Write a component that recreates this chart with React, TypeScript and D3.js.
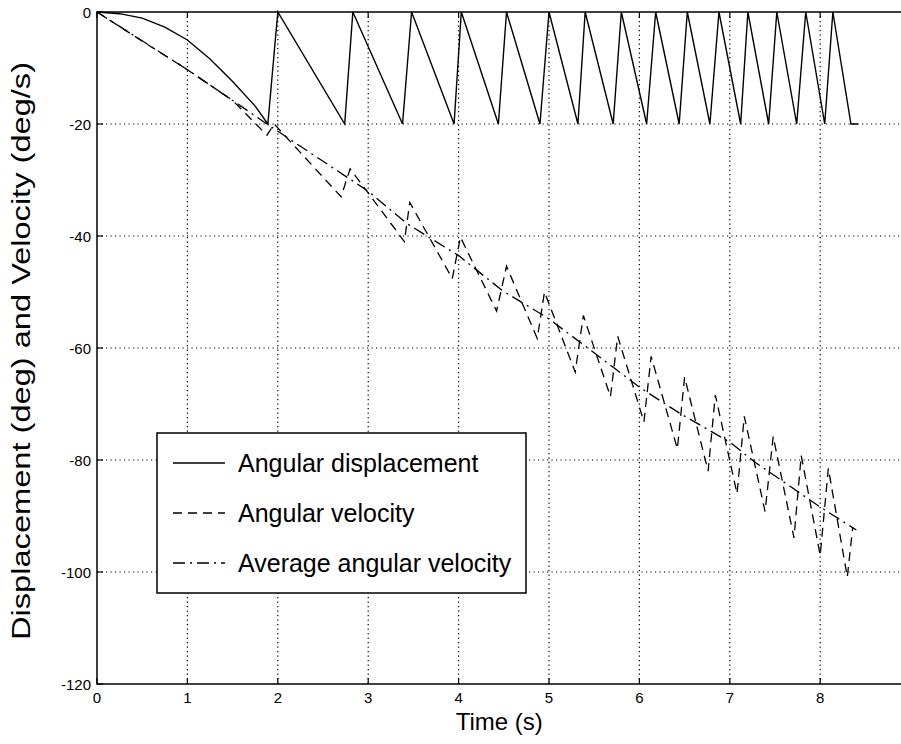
import React from "react";
import * as d3 from "d3";

// ---- data ----
const dispT = [0, 0.25, 0.5, 0.75, 1.0, 1.25, 1.5, 1.75, 1.89, 2.0, 2.74, 2.83, 3.38, 3.48, 3.95, 4.03, 4.44, 4.53, 4.9, 5.0, 5.32, 5.4, 5.71, 5.8, 6.08, 6.18, 6.44, 6.53, 6.78, 6.88, 7.12, 7.2, 7.43, 7.52, 7.74, 7.84, 8.05, 8.14, 8.34, 8.42];
const dispV = [0, -0.3, -1.1, -2.7, -5.0, -8.4, -12.4, -16.8, -20, 0, -20, 0, -20, 0, -20, 0, -20, 0, -20, 0, -20, 0, -20, 0, -20, 0, -20, 0, -20, 0, -20, 0, -20, 0, -20, 0, -20, 0, -20, -20];

const velT = [0, 0.5, 1.0, 1.5, 1.88, 1.96, 2.7, 2.8, 3.4, 3.46, 3.93, 4.02, 4.42, 4.53, 4.87, 4.95, 5.29, 5.38, 5.68, 5.76, 6.05, 6.13, 6.42, 6.5, 6.76, 6.84, 7.08, 7.16, 7.39, 7.48, 7.71, 7.79, 8.0, 8.09, 8.3, 8.36];
const velV = [0, -5.2, -10.3, -15.8, -22, -20, -33, -28, -41, -34, -47.6, -40.2, -53.4, -45.4, -58.3, -50, -64.3, -54.2, -68.7, -57.9, -73.2, -61.5, -78, -65.2, -82, -68.4, -86, -72.2, -89.2, -75.8, -93.9, -79.2, -97, -81.5, -100.9, -92];

const avgT = [0, 1, 2, 3, 3.43, 4, 4.48, 5, 5.42, 6, 6.45, 7, 7.28, 8, 8.4];
const avgV = [0, -10.3, -21.3, -32, -37.8, -43.5, -49.7, -54.8, -59.9, -67, -71.7, -76.8, -80.4, -88.4, -92.5];

const xTicks = [0, 1, 2, 3, 4, 5, 6, 7, 8];
const yTicks = [0, -20, -40, -60, -80, -100, -120];
const legendLabels = ["Angular displacement", "Angular velocity", "Average angular velocity"];

const W = 901, H = 744;
const FONT = "'Liberation Sans', Arial, Helvetica, sans-serif";

export default function App() {
  const x = d3.scaleLinear().domain([0, 9]).range([97, 910.6]);
  const y = d3.scaleLinear().domain([-120, 0]).range([684, 12]);
  const line = d3.line<[number, number]>().x(d => x(d[0])).y(d => y(d[1]));
  const disp = line(dispT.map((t, i) => [t, dispV[i]] as [number, number])) || "";
  const vel = line(velT.map((t, i) => [t, velV[i]] as [number, number])) || "";
  const avg = line(avgT.map((t, i) => [t, avgV[i]] as [number, number])) || "";

  const styles = [
    { dash: "none" },
    { dash: "9,6" },
    { dash: "12,5,2,5" },
  ];

  const lgX = 157, lgTop = 433, lgBottom = 593, lgRight = 526;
  const rowY = [463, 513, 563];

  return (
    <svg width={W} height={H} style={{ position: "absolute", left: 0, top: 0, background: "#fff" }} fontFamily={FONT}>
      <rect x={0} y={0} width={W} height={H} fill="#fff" />
      {/* grid */}
      {xTicks.filter(t => t > 0).map(t => (
        <line key={"gx" + t} x1={x(t)} x2={x(t)} y1={y(0)} y2={y(-120)} stroke="#000" strokeWidth={1.2} strokeDasharray="1.2,3.3" />
      ))}
      {yTicks.filter(v => v < 0 && v > -120).map(v => (
        <line key={"gy" + v} x1={x(0)} x2={x(9)} y1={y(v)} y2={y(v)} stroke="#000" strokeWidth={1.2} strokeDasharray="1.2,3.3" />
      ))}
      {/* axes box */}
      <rect x={x(0)} y={y(0)} width={x(9) - x(0)} height={y(-120) - y(0)} fill="none" stroke="#000" strokeWidth={1.5} />
      {/* ticks */}
      {xTicks.map(t => (
        <g key={"tx" + t}>
          <line x1={x(t)} x2={x(t)} y1={y(-120)} y2={y(-120) - 6} stroke="#000" strokeWidth={1.2} />
          <line x1={x(t)} x2={x(t)} y1={y(0)} y2={y(0) + 6} stroke="#000" strokeWidth={1.2} />
          <text x={x(t)} y={y(-120) + 19} textAnchor="middle" fontSize={15}>{t}</text>
        </g>
      ))}
      {yTicks.map(v => (
        <g key={"ty" + v}>
          <line x1={x(0)} x2={x(0) + 6} y1={y(v)} y2={y(v)} stroke="#000" strokeWidth={1.2} />
          <text x={x(0) - 6} y={y(v) + 5.5} textAnchor="end" fontSize={15}>{v}</text>
        </g>
      ))}
      {/* data */}
      <path d={avg} fill="none" stroke="#000" strokeWidth={1.3} strokeDasharray={styles[2].dash} />
      <path d={vel} fill="none" stroke="#000" strokeWidth={1.3} strokeDasharray={styles[1].dash} />
      <path d={disp} fill="none" stroke="#000" strokeWidth={1.4} />
      {/* axis labels */}
      <text x={x(4.45)} y={730} textAnchor="middle" fontSize={24}>Time (s)</text>
      <text transform={`translate(30,351) rotate(-90)`} textAnchor="middle" fontSize={26} textLength={578} lengthAdjust="spacingAndGlyphs">Displacement (deg) and Velocity (deg/s)</text>
      {/* legend */}
      <rect x={lgX} y={lgTop} width={lgRight - lgX} height={lgBottom - lgTop} fill="#fff" stroke="#000" strokeWidth={1.5} />
      {legendLabels.map((lab, i) => (
        <g key={lab}>
          <line x1={173} x2={225} y1={rowY[i]} y2={rowY[i]} stroke="#000" strokeWidth={1.4} strokeDasharray={styles[i].dash} />
          <text x={238} y={rowY[i] + 8.5} fontSize={25}>{lab}</text>
        </g>
      ))}
    </svg>
  );
}
